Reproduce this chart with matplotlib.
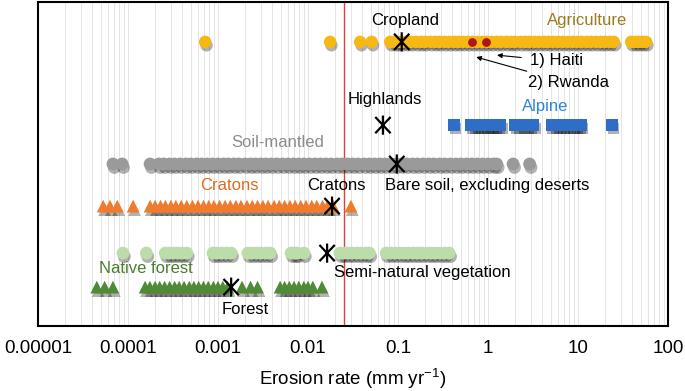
import matplotlib
matplotlib.use("Agg")
import matplotlib.pyplot as plt
import matplotlib.patheffects as pe
from matplotlib.path import Path

plt.rcParams['font.family'] = ['Liberation Sans', 'DejaVu Sans']
plt.rcParams['mathtext.default'] = 'regular'

# Tassi di erosione (mm/yr), una lista per categoria
agriculture = [0.00072, 0.0176, 0.038, 0.051,
               0.082, 0.092, 0.1, 0.11, 0.125, 0.14, 0.16, 0.18, 0.2, 0.23, 0.26,
               0.29, 0.33, 0.37, 0.42, 0.47, 0.53, 0.6, 0.68, 0.77, 0.87, 0.98,
               1.1, 1.25, 1.4, 1.6, 1.8, 2.0, 2.3, 2.6, 2.9, 3.3, 3.7, 4.2, 4.7,
               5.3, 6.0, 6.8, 7.7, 8.7, 9.8, 11, 12.5, 14, 16, 18, 20, 22.5, 25,
               39, 43, 47, 52, 57]
haiti_rwanda = [0.66, 0.95]
alpine = [0.42,
          0.65, 0.7, 0.76, 0.82, 0.89, 0.96, 1.03, 1.1, 1.2, 1.28, 1.37,
          2.0, 2.2, 2.45, 2.7, 2.95, 3.2,
          5.1, 5.6, 6.1, 6.7, 7.3, 8.0, 8.7, 9.5, 10.3, 10.8,
          24]
soil_mantled = [6.8e-5, 8.6e-5, 1.76e-4,
                2.2e-4, 2.5e-4, 2.9e-4, 3.3e-4, 3.8e-4, 4.4e-4, 5e-4, 5.8e-4,
                6.6e-4, 7.6e-4, 8.7e-4, 1e-3, 1.15e-3, 1.3e-3, 1.5e-3, 1.7e-3,
                2e-3, 2.3e-3, 2.6e-3, 3e-3, 3.4e-3, 3.9e-3, 4.5e-3, 5.2e-3, 6e-3,
                6.9e-3, 7.9e-3, 9e-3, 0.0104, 0.012, 0.0137, 0.0158, 0.018, 0.021,
                0.024, 0.0275, 0.0315, 0.036, 0.042, 0.048, 0.055, 0.063, 0.072,
                0.083, 0.095, 0.11, 0.125, 0.145, 0.165, 0.19, 0.22, 0.25, 0.29,
                0.33, 0.38, 0.44, 0.5, 0.58, 0.66, 0.76, 0.87, 1.0, 1.15, 1.25,
                1.9, 2.9]
cratons = [5.3e-5, 6.3e-5, 7.6e-5, 1.14e-4, 1.76e-4,
           2e-4, 2.3e-4, 2.6e-4, 3e-4, 3.4e-4, 3.9e-4, 4.5e-4, 5.2e-4, 6e-4,
           6.9e-4, 7.9e-4, 9e-4, 1.04e-3, 1.2e-3, 1.37e-3, 1.58e-3, 1.8e-3,
           2.1e-3, 2.4e-3, 2.75e-3, 3.15e-3, 3.6e-3, 4.2e-3, 4.8e-3, 5.5e-3,
           6.3e-3, 7.2e-3, 8.3e-3, 9.5e-3, 0.011, 0.0125, 0.0145, 0.0165, 0.019,
           0.03]
semi_natural = [8.8e-5, 1.6e-4,
                2.6e-4, 2.9e-4, 3.2e-4, 3.6e-4, 4e-4, 4.5e-4,
                8.8e-4, 9.8e-4, 1.1e-3, 1.24e-3, 1.4e-3,
                2.15e-3, 2.4e-3, 2.7e-3, 3e-3, 3.4e-3, 3.8e-3,
                6.5e-3, 7.1e-3, 7.6e-3, 9e-3,
                0.0227, 0.025, 0.028, 0.031, 0.035, 0.039, 0.044, 0.048,
                0.074, 0.083, 0.093, 0.105, 0.118, 0.13, 0.147, 0.165, 0.185,
                0.21, 0.235, 0.26, 0.295, 0.33, 0.37]
native_forest = [4.5e-5, 5.5e-5, 6.8e-5,
                 1.55e-4, 1.75e-4, 2e-4, 2.25e-4, 2.55e-4, 2.9e-4, 3.3e-4,
                 3.7e-4, 4.2e-4, 4.8e-4, 5.4e-4, 6.1e-4, 6.9e-4, 7.8e-4, 8.9e-4,
                 1e-3, 1.13e-3, 1.28e-3,
                 1.85e-3, 2.3e-3, 2.75e-3,
                 4.9e-3, 5.5e-3, 6.2e-3, 7e-3, 7.9e-3, 9e-3, 0.01, 0.0113,
                 0.0143]

# Medie (asterischi)
medie_nomi = ['Cropland', 'Highlands', 'Bare soil, excluding deserts', 'Cratons',
              'Semi-natural vegetation', 'Forest']
medie_valori = [0.11, 0.068, 0.097, 0.0185, 0.0163, 0.0014]

soglia = 0.025  # linea rossa verticale

# Posizione verticale delle righe (scala 0-100)
y_agri, y_alp, y_soil, y_crat, y_semi, y_for = 87.7, 62.0, 50.0, 37.0, 22.5, 12.0

fig = plt.figure(figsize=(6.85, 3.91), dpi=100)
ax = fig.add_axes([38 / 685, 65 / 391, 630 / 685, 324 / 391])
ax.set_xscale('log')
ax.set_xlim(1e-5, 100)
ax.set_ylim(0, 100)

# griglia verticale chiara
ax.grid(True, which='both', axis='x', color='#e4e4e4', linewidth=0.7)
ax.set_axisbelow(True)

ombra = [pe.SimplePatchShadow(offset=(1, -2.5), shadow_rgbFace='black', alpha=0.3), pe.Normal()]

def riga(valori, y, **kw):
    sc = ax.scatter(valori, [y] * len(valori), linewidths=0, zorder=3, **kw)
    sc.set_path_effects(ombra)

riga(agriculture, y_agri, s=80, marker='o', color='#f6b913')
ax.scatter(haiti_rwanda, [y_agri] * 2, s=28, color='#b3140f', zorder=4)
riga(alpine, y_alp, s=70, marker='s', color='#2f6ec6')
riga(soil_mantled, y_soil, s=85, marker='o', color='#9a9a9a')
riga(cratons, y_crat, s=85, marker='^', color='#f07b2c')
riga(semi_natural, y_semi, s=85, marker='o', color='#bcdcaa')
riga(native_forest, y_for, s=85, marker='^', color='#4f8a36')

# asterisco a sei bracci
asterisco = Path([(0, -1), (0, 1), (-0.8, -0.85), (0.8, 0.85), (-0.8, 0.85), (0.8, -0.85)],
                 [Path.MOVETO, Path.LINETO] * 3)
y_medie = [y_agri, y_alp, y_soil, y_crat, y_semi, y_for]
ax.scatter(medie_valori, y_medie, s=190, marker=asterisco, facecolors='none',
           edgecolors='black', linewidths=1.6, zorder=5)

ax.axvline(soglia, color='#e0403a', linewidth=1, zorder=2)

# etichette
fs = 12
ax.text(0.12, 94.4, 'Cropland', ha='center', va='center', fontsize=fs)
ax.text(12.6, 94.4, 'Agriculture', ha='center', va='center', fontsize=fs, color='#9c7a1c')
ax.text(0.072, 69.8, 'Highlands', ha='center', va='center', fontsize=fs)
ax.text(4.3, 67.6, 'Alpine', ha='center', va='center', fontsize=fs, color='#2b86d6')
ax.text(4.6e-3, 56.5, 'Soil-mantled', ha='center', va='center', fontsize=fs, color='#8c8c8c')
ax.text(1.35e-3, 43.3, 'Cratons', ha='center', va='center', fontsize=fs, color='#d96c20')
ax.text(0.0205, 43.5, 'Cratons', ha='center', va='center', fontsize=fs)
ax.text(0.99, 43.5, 'Bare soil, excluding deserts', ha='center', va='center', fontsize=fs)
ax.text(1.58e-4, 17.9, 'Native forest', ha='center', va='center', fontsize=fs, color='#4b7c30')
ax.text(0.185, 16.4, 'Semi-natural vegetation', ha='center', va='center', fontsize=fs)
ax.text(2.0e-3, 5.2, 'Forest', ha='center', va='center', fontsize=fs)

ax.annotate('1) Haiti', xy=(1.26, 83.6), xytext=(2.9, 81.8), ha='left', va='center',
            fontsize=fs, arrowprops=dict(arrowstyle='-|>', color='black', lw=0.8,
                                         shrinkA=4, shrinkB=0, mutation_scale=7))
ax.annotate('2) Rwanda', xy=(0.74, 83.0), xytext=(2.8, 75.0), ha='left', va='center',
            fontsize=fs, arrowprops=dict(arrowstyle='-|>', color='black', lw=0.8,
                                         shrinkA=4, shrinkB=0, mutation_scale=7))

# assi
ax.set_xticks([1e-5, 1e-4, 1e-3, 1e-2, 0.1, 1, 10, 100])
ax.set_xticklabels(['0.00001', '0.0001', '0.001', '0.01', '0.1', '1', '10', '100'])
ax.tick_params(axis='x', which='both', length=0, labelsize=13.5, pad=10)
ax.set_yticks([])
ax.set_xlabel('Erosion rate (mm yr$^{-1}$)', fontsize=13.5, labelpad=7)
for s in ax.spines.values():
    s.set_linewidth(1.5)

fig.savefig('out.png', dpi=100)
